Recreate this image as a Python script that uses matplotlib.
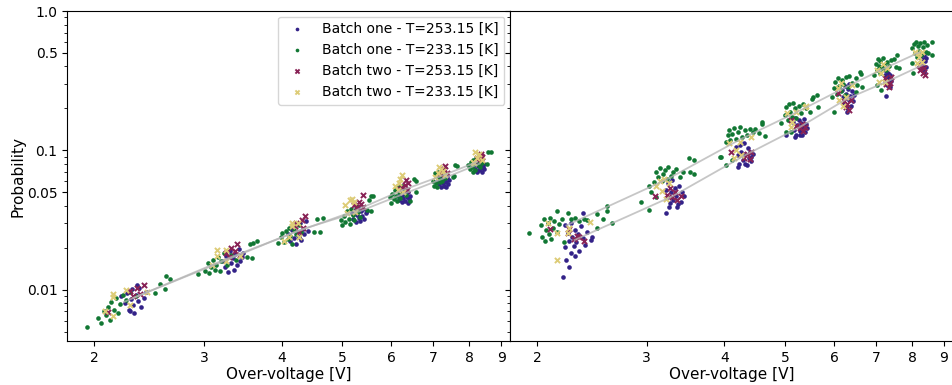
import numpy as np
import matplotlib
matplotlib.use("Agg")
import matplotlib.pyplot as plt
from matplotlib.ticker import NullLocator

# (over-voltage [V], probability) measurements per series

# left panel
left_b1_253 = [
    (2.21, 0.0090), (2.24, 0.0080), (2.26, 0.0095), (2.27, 0.0072), (2.29, 0.0086), (2.30, 0.0101),
    (2.31, 0.0078), (2.32, 0.0068), (2.33, 0.0092), (2.35, 0.0083), (2.36, 0.0104), (2.38, 0.0075),
    (2.40, 0.0088), (2.42, 0.0097), (2.28, 0.0070), (2.34, 0.0108),
    (3.22, 0.0160), (3.24, 0.0145), (3.26, 0.0175), (3.28, 0.0135), (3.30, 0.0190), (3.32, 0.0155),
    (3.34, 0.0168), (3.35, 0.0140), (3.37, 0.0182), (3.39, 0.0150), (3.41, 0.0195), (3.43, 0.0162),
    (3.45, 0.0172), (3.47, 0.0185),
    (4.10, 0.0250), (4.13, 0.0225), (4.15, 0.0270), (4.18, 0.0235), (4.20, 0.0290), (4.22, 0.0212),
    (4.24, 0.0260), (4.26, 0.0240), (4.28, 0.0300), (4.30, 0.0228), (4.32, 0.0275), (4.35, 0.0250),
    (4.38, 0.0310), (4.40, 0.0265),
    (5.18, 0.0355), (5.21, 0.0320), (5.24, 0.0375), (5.26, 0.0305), (5.28, 0.0345), (5.30, 0.0390),
    (5.32, 0.0330), (5.34, 0.0310), (5.36, 0.0365), (5.38, 0.0340), (5.41, 0.0380), (5.43, 0.0325),
    (5.46, 0.0355), (5.48, 0.0370),
    (6.15, 0.0470), (6.18, 0.0440), (6.20, 0.0505), (6.23, 0.0425), (6.25, 0.0480), (6.27, 0.0455),
    (6.29, 0.0515), (6.31, 0.0435), (6.33, 0.0490), (6.35, 0.0460), (6.37, 0.0420), (6.39, 0.0500),
    (6.41, 0.0450), (6.43, 0.0475),
    (7.12, 0.0600), (7.15, 0.0570), (7.18, 0.0640), (7.20, 0.0550), (7.22, 0.0610), (7.25, 0.0585),
    (7.27, 0.0660), (7.29, 0.0560), (7.31, 0.0625), (7.33, 0.0595), (7.35, 0.0545), (7.37, 0.0640),
    (7.39, 0.0575), (7.42, 0.0610),
    (8.15, 0.0780), (8.18, 0.0740), (8.21, 0.0820), (8.23, 0.0700), (8.25, 0.0770), (8.28, 0.0850),
    (8.30, 0.0720), (8.32, 0.0790), (8.35, 0.0750), (8.37, 0.0830), (8.39, 0.0695), (8.41, 0.0765),
    (8.44, 0.0805), (8.46, 0.0735),
]
left_b1_233 = [
    (1.95, 0.0054), (2.03, 0.0063), (2.05, 0.0058), (2.07, 0.0070), (2.09, 0.0066), (2.10, 0.0076),
    (2.12, 0.0061), (2.13, 0.0082), (2.15, 0.0072), (2.17, 0.0088), (2.18, 0.0068), (2.20, 0.0079),
    (2.22, 0.0092), (2.25, 0.0085), (2.28, 0.0097), (2.33, 0.0090), (2.50, 0.0095), (2.55, 0.0111),
    (2.61, 0.0126), (2.65, 0.0119), (2.60, 0.0101),
    (2.93, 0.0129), (3.01, 0.0137), (3.04, 0.0157), (3.06, 0.0132), (3.08, 0.0145), (3.10, 0.0165),
    (3.12, 0.0140), (3.14, 0.0152), (3.16, 0.0172), (3.18, 0.0136), (3.20, 0.0160), (3.23, 0.0185),
    (3.27, 0.0150), (3.32, 0.0178), (3.38, 0.0165), (3.52, 0.0171), (3.56, 0.0215), (3.60, 0.0218),
    (3.65, 0.0223), (3.58, 0.0168),
    (3.95, 0.0216), (3.99, 0.0240), (4.01, 0.0255), (4.04, 0.0222), (4.07, 0.0265), (4.09, 0.0232),
    (4.11, 0.0280), (4.13, 0.0245), (4.16, 0.0215), (4.19, 0.0270), (4.22, 0.0250), (4.26, 0.0290),
    (4.30, 0.0262), (4.50, 0.0260), (4.55, 0.0323), (4.60, 0.0262), (4.65, 0.0330),
    (4.98, 0.0315), (5.00, 0.0290), (5.03, 0.0340), (5.06, 0.0305), (5.09, 0.0365), (5.12, 0.0325),
    (5.15, 0.0295), (5.17, 0.0380), (5.20, 0.0345), (5.23, 0.0315), (5.26, 0.0400), (5.30, 0.0360),
    (5.35, 0.0335), (5.49, 0.0376), (5.52, 0.0438), (5.56, 0.0470), (5.60, 0.0468), (5.56, 0.0366),
    (5.97, 0.0460), (6.00, 0.0423), (6.02, 0.0490), (6.05, 0.0445), (6.08, 0.0520), (6.10, 0.0470),
    (6.12, 0.0435), (6.14, 0.0545), (6.17, 0.0500), (6.20, 0.0455), (6.23, 0.0560), (6.27, 0.0515),
    (6.32, 0.0480), (6.43, 0.0432), (6.53, 0.0619), (6.57, 0.0600), (6.57, 0.0500),
    (7.00, 0.0600), (7.02, 0.0560), (7.05, 0.0685), (7.07, 0.0580), (7.09, 0.0640), (7.11, 0.0545),
    (7.13, 0.0700), (7.15, 0.0620), (7.17, 0.0590), (7.20, 0.0665), (7.23, 0.0605), (7.27, 0.0690),
    (7.32, 0.0630), (7.52, 0.0640), (7.55, 0.0660), (7.60, 0.0783), (7.65, 0.0775),
    (7.97, 0.0780), (8.02, 0.0740), (8.05, 0.0820), (8.08, 0.0760), (8.10, 0.0700), (8.12, 0.0860),
    (8.15, 0.0800), (8.18, 0.0720), (8.21, 0.0880), (8.25, 0.0790), (8.29, 0.0840), (8.33, 0.0760),
    (8.40, 0.0810), (8.55, 0.0800), (8.58, 0.0970), (8.67, 0.0975),
]
left_b2_253 = [
    (2.10, 0.0069), (2.28, 0.0098), (2.31, 0.0090), (2.34, 0.0103), (2.37, 0.0094), (2.40, 0.0108),
    (3.26, 0.0185), (3.29, 0.0172), (3.32, 0.0200), (3.36, 0.0190), (3.39, 0.0215), (3.43, 0.0178),
    (4.20, 0.0285), (4.22, 0.0300), (4.27, 0.0260), (4.31, 0.0318), (4.36, 0.0337), (4.33, 0.0280),
    (5.22, 0.0405), (5.28, 0.0390), (5.32, 0.0424), (5.36, 0.0410), (5.40, 0.0477), (5.40, 0.0390),
    (6.20, 0.0530), (6.25, 0.0545), (6.30, 0.0565), (6.32, 0.0609), (6.39, 0.0580), (6.35, 0.0520),
    (7.18, 0.0680), (7.22, 0.0720), (7.25, 0.0700), (7.30, 0.0740), (7.32, 0.0773), (7.36, 0.0690),
    (8.22, 0.0880), (8.26, 0.0860), (8.30, 0.0880), (8.34, 0.0910), (8.37, 0.0950), (8.40, 0.0900),
]
left_b2_233 = [
    (2.08, 0.0071), (2.14, 0.0094), (2.14, 0.0089), (2.14, 0.0065), (2.25, 0.0099), (2.28, 0.0078),
    (2.43, 0.0097),
    (3.09, 0.0150), (3.15, 0.0192), (3.15, 0.0176), (3.25, 0.0192), (3.25, 0.0162), (3.43, 0.0176),
    (4.04, 0.0226), (4.11, 0.0238), (4.16, 0.0300), (4.16, 0.0286), (4.25, 0.0300), (4.27, 0.0238),
    (5.05, 0.0405), (5.10, 0.0355), (5.14, 0.0438), (5.23, 0.0424), (5.25, 0.0360), (5.18, 0.0450),
    (6.08, 0.0560), (6.14, 0.0518), (6.17, 0.0580), (6.25, 0.0664), (6.27, 0.0500), (6.20, 0.0620),
    (7.05, 0.0650), (7.12, 0.0685), (7.15, 0.0763), (7.25, 0.0717), (7.32, 0.0664), (7.20, 0.0740),
    (8.10, 0.0830), (8.13, 0.0808), (8.18, 0.0970), (8.23, 0.0890), (8.40, 0.0851), (8.28, 0.0940),
]

# right panel
right_b1_253 = [
    (2.22, 0.0290), (2.24, 0.0255), (2.25, 0.0225), (2.27, 0.0300), (2.28, 0.0240), (2.29, 0.0205),
    (2.30, 0.0270), (2.31, 0.0220), (2.33, 0.0250), (2.34, 0.0190), (2.35, 0.0285), (2.37, 0.0235),
    (2.37, 0.0355), (2.39, 0.0210), (2.41, 0.0260), (2.44, 0.0229), (2.45, 0.0240), (2.20, 0.0123),
    (2.23, 0.0163), (2.25, 0.0145), (2.27, 0.0183), (2.22, 0.0202), (2.30, 0.0176),
    (3.22, 0.0520), (3.24, 0.0460), (3.25, 0.0580), (3.27, 0.0420), (3.28, 0.0500), (3.30, 0.0610),
    (3.31, 0.0440), (3.33, 0.0540), (3.35, 0.0470), (3.36, 0.0390), (3.38, 0.0560), (3.40, 0.0430),
    (3.42, 0.0500), (3.45, 0.0470), (3.22, 0.0358), (3.26, 0.0390), (3.37, 0.0410),
    (4.18, 0.105), (4.20, 0.092), (4.22, 0.080), (4.24, 0.110), (4.26, 0.098), (4.28, 0.086),
    (4.30, 0.113), (4.32, 0.094), (4.34, 0.078), (4.36, 0.104), (4.38, 0.089), (4.40, 0.098),
    (4.42, 0.084), (4.45, 0.095), (4.20, 0.0755), (4.31, 0.0800), (4.42, 0.0900),
    (5.15, 0.160), (5.18, 0.140), (5.20, 0.170), (5.22, 0.130), (5.24, 0.152), (5.26, 0.165),
    (5.28, 0.138), (5.30, 0.158), (5.32, 0.128), (5.34, 0.148), (5.36, 0.168), (5.38, 0.135),
    (5.41, 0.155), (5.43, 0.145), (5.02, 0.1285), (5.20, 0.1244), (5.28, 0.1285),
    (6.18, 0.270), (6.20, 0.240), (6.23, 0.215), (6.25, 0.290), (6.27, 0.255), (6.29, 0.200),
    (6.31, 0.275), (6.33, 0.230), (6.35, 0.300), (6.37, 0.245), (6.39, 0.210), (6.41, 0.265),
    (6.44, 0.225), (6.46, 0.250), (6.30, 0.190),
    (7.24, 0.345), (7.26, 0.310), (7.28, 0.370), (7.30, 0.295), (7.32, 0.335), (7.33, 0.360),
    (7.35, 0.300), (7.36, 0.325), (7.38, 0.285), (7.39, 0.350), (7.41, 0.315), (7.26, 0.245),
    (7.34, 0.290),
    (8.24, 0.470), (8.26, 0.420), (8.28, 0.495), (8.30, 0.385), (8.32, 0.450), (8.34, 0.405),
    (8.36, 0.480), (8.38, 0.370), (8.40, 0.435), (8.42, 0.460), (8.44, 0.395), (8.35, 0.365),
]
right_b1_233 = [
    (1.94, 0.0255), (2.03, 0.0290), (2.04, 0.0240), (2.05, 0.0320), (2.06, 0.0225), (2.07, 0.0270),
    (2.08, 0.0300), (2.09, 0.0250), (2.10, 0.0330), (2.11, 0.0230), (2.12, 0.0280), (2.13, 0.0310),
    (2.15, 0.0366), (2.15, 0.0260), (2.17, 0.0295), (2.19, 0.0320), (2.21, 0.0220), (2.24, 0.0355),
    (2.27, 0.0320), (2.30, 0.0330), (2.34, 0.0310), (2.38, 0.0325), (2.41, 0.0315), (2.50, 0.0350),
    (2.50, 0.0280), (2.55, 0.0320), (2.59, 0.0397), (2.59, 0.0370), (2.64, 0.0300),
    (2.94, 0.0424), (3.03, 0.0372), (3.03, 0.0560), (3.05, 0.0500), (3.08, 0.0590), (3.10, 0.0465),
    (3.11, 0.0700), (3.13, 0.0640), (3.15, 0.0750), (3.17, 0.0600), (3.19, 0.0680), (3.21, 0.0720),
    (3.23, 0.0620), (3.25, 0.0760), (3.28, 0.0660), (3.31, 0.0700), (3.35, 0.0740), (3.39, 0.0640),
    (3.43, 0.0700), (3.51, 0.0890), (3.52, 0.0700), (3.57, 0.0860), (3.58, 0.0680), (3.95, 0.0900),
    (3.93, 0.0893), (4.03, 0.115), (4.03, 0.0783), (4.05, 0.128), (4.07, 0.140), (4.09, 0.118),
    (4.12, 0.0851), (4.12, 0.132), (4.15, 0.145), (4.18, 0.120), (4.21, 0.136), (4.24, 0.147),
    (4.27, 0.125), (4.31, 0.140), (4.35, 0.130), (4.40, 0.142), (4.44, 0.135), (4.47, 0.142),
    (4.54, 0.133), (4.60, 0.160), (4.60, 0.155), (4.64, 0.127),
    (4.93, 0.157), (5.00, 0.180), (5.02, 0.135), (5.03, 0.205), (5.06, 0.165), (5.08, 0.215),
    (5.10, 0.190), (5.12, 0.135), (5.13, 0.175), (5.16, 0.218), (5.19, 0.200), (5.22, 0.170),
    (5.26, 0.210), (5.30, 0.185), (5.35, 0.215), (5.40, 0.200), (5.48, 0.188), (5.52, 0.233),
    (5.55, 0.240), (5.63, 0.249), (5.66, 0.205),
    (5.96, 0.241), (6.00, 0.188), (6.00, 0.280), (6.03, 0.310), (6.06, 0.255), (6.09, 0.330),
    (6.12, 0.290), (6.15, 0.265), (6.18, 0.320), (6.21, 0.300), (6.24, 0.250), (6.27, 0.335),
    (6.31, 0.285), (6.35, 0.340), (6.40, 0.305), (6.50, 0.330), (6.50, 0.262), (6.53, 0.294),
    (6.60, 0.365), (6.62, 0.355), (6.66, 0.284),
    (6.96, 0.347), (7.00, 0.420), (7.02, 0.380), (7.04, 0.294), (7.05, 0.450), (7.08, 0.400),
    (7.10, 0.360), (7.12, 0.440), (7.14, 0.270), (7.16, 0.390), (7.19, 0.460), (7.22, 0.410),
    (7.26, 0.375), (7.30, 0.430), (7.35, 0.400), (7.40, 0.445), (7.50, 0.452), (7.53, 0.396),
    (7.58, 0.483), (7.63, 0.389),
    (8.00, 0.423), (8.00, 0.540), (8.03, 0.360), (8.05, 0.580), (8.08, 0.500), (8.11, 0.600),
    (8.14, 0.470), (8.17, 0.560), (8.20, 0.520), (8.24, 0.590), (8.28, 0.480), (8.32, 0.550),
    (8.38, 0.600), (8.44, 0.510), (8.47, 0.570), (8.50, 0.500), (8.60, 0.598), (8.63, 0.483),
]
right_b2_253 = [
    (2.10, 0.0272), (2.24, 0.0255), (2.25, 0.0272), (2.32, 0.0245), (2.34, 0.0238), (2.38, 0.0226),
    (2.29, 0.0232),
    (3.09, 0.0470), (3.24, 0.0480), (3.27, 0.0540), (3.30, 0.0460), (3.33, 0.0500), (3.36, 0.0440),
    (3.40, 0.0470),
    (4.10, 0.097), (4.26, 0.093), (4.30, 0.088), (4.35, 0.095), (4.40, 0.087), (4.42, 0.097),
    (5.12, 0.165), (5.22, 0.150), (5.28, 0.145), (5.33, 0.155), (5.38, 0.148), (5.35, 0.138),
    (6.08, 0.258), (6.22, 0.225), (6.27, 0.205), (6.30, 0.215), (6.35, 0.195), (6.38, 0.230),
    (7.23, 0.330), (7.27, 0.300), (7.30, 0.315), (7.34, 0.285), (7.38, 0.305), (7.40, 0.335),
    (8.20, 0.410), (8.24, 0.380), (8.28, 0.400), (8.32, 0.360), (8.36, 0.390), (8.40, 0.350),
]
right_b2_233 = [
    (2.08, 0.0300), (2.15, 0.0255), (2.15, 0.0163), (2.24, 0.0255), (2.25, 0.0277), (2.43, 0.0305),
    (3.11, 0.0560), (3.15, 0.0600), (3.18, 0.0510), (3.22, 0.0450), (3.26, 0.0580), (3.20, 0.0620),
    (4.07, 0.113), (4.15, 0.088), (4.23, 0.115), (4.26, 0.0925), (4.42, 0.124), (4.18, 0.100),
    (5.04, 0.185), (5.12, 0.147), (5.14, 0.160), (5.22, 0.188), (5.38, 0.205), (5.40, 0.208),
    (6.08, 0.280), (6.12, 0.230), (6.19, 0.208), (6.27, 0.241), (6.40, 0.294), (6.15, 0.305),
    (7.04, 0.377), (7.09, 0.310), (7.14, 0.360), (7.23, 0.310), (7.30, 0.389), (7.18, 0.420),
    (8.08, 0.507), (8.14, 0.423), (8.17, 0.500), (8.29, 0.507), (8.29, 0.430), (8.22, 0.470),
]

series_labels = [
    "Batch one - T=253.15 [K]",
    "Batch one - T=233.15 [K]",
    "Batch two - T=253.15 [K]",
    "Batch two - T=233.15 [K]",
]
series_colors = ["#332288", "#117733", "#882255", "#DDCC77"]
series_markers = ["o", "o", "x", "x"]
set_voltages = [2.2, 3.2, 4.2, 5.2, 6.2, 7.2, 8.2]
x_ticks = [2, 3, 4, 5, 6, 7, 8, 9]
y_ticks = [0.01, 0.05, 0.1, 0.5, 1.0]
y_ticklabels = ["0.01", "0.05", "0.1", "0.5", "1.0"]


def step_means(points):
    """Geometric mean of each voltage step, used for the guide line."""
    v = np.log([q[0] for q in points])
    p = np.log([q[1] for q in points])
    step = np.argmin(np.abs(v[:, None] - np.log(set_voltages)[None, :]), axis=1)
    mv, mp = [], []
    for k in range(len(set_voltages)):
        sel = step == k
        if sel.any():
            mv.append(np.exp(v[sel].mean()))
            mp.append(np.exp(p[sel].mean()))
    return mv, mp


def draw_panel(ax, panel):
    for pts, lab, col, mk in zip(panel, series_labels, series_colors, series_markers):
        v = [q[0] for q in pts]
        p = [q[1] for q in pts]
        if mk == "x":
            ax.scatter(v, p, s=14, marker="x", color=col, linewidths=1.4, label=lab, zorder=3)
        else:
            ax.scatter(v, p, s=11, marker="o", color=col, linewidths=0, label=lab, zorder=2)
    # one guide line per temperature, both batches pooled
    for hot, cold in [(0, 2), (1, 3)]:
        mv, mp = step_means(panel[hot] + panel[cold])
        ax.plot(mv, mp, color="#b4b4b4", alpha=0.75, linewidth=1.3, zorder=4)
    ax.set_xscale("log")
    ax.set_yscale("log")
    ax.set_xlim(1.81, 9.3)
    ax.set_ylim(0.0043, 1.0)
    ax.set_xticks(x_ticks)
    ax.set_xticklabels([str(t) for t in x_ticks])
    ax.xaxis.set_minor_locator(NullLocator())
    ax.tick_params(labelsize=10)
    ax.set_xlabel("Over-voltage [V]", fontsize=11, labelpad=2)


fig = plt.figure(figsize=(9.52, 3.85), dpi=100)
ax_l = fig.add_axes([0.0707, 0.1143, 0.4650, 0.8571])
ax_r = fig.add_axes([0.5357, 0.1143, 0.4650, 0.8571], sharey=ax_l)

draw_panel(ax_l, [left_b1_253, left_b1_233, left_b2_253, left_b2_233])
draw_panel(ax_r, [right_b1_253, right_b1_233, right_b2_253, right_b2_233])

ax_l.set_yticks(y_ticks)
ax_l.set_yticklabels(y_ticklabels)
ax_l.set_ylabel("Probability", fontsize=11, labelpad=1)
plt.setp(ax_r.get_yticklabels(), visible=False)

ax_l.legend(loc="upper right", fontsize=10, markerscale=0.8, handletextpad=0.8,
            borderaxespad=0.4)

fig.savefig("out.png", dpi=100)
